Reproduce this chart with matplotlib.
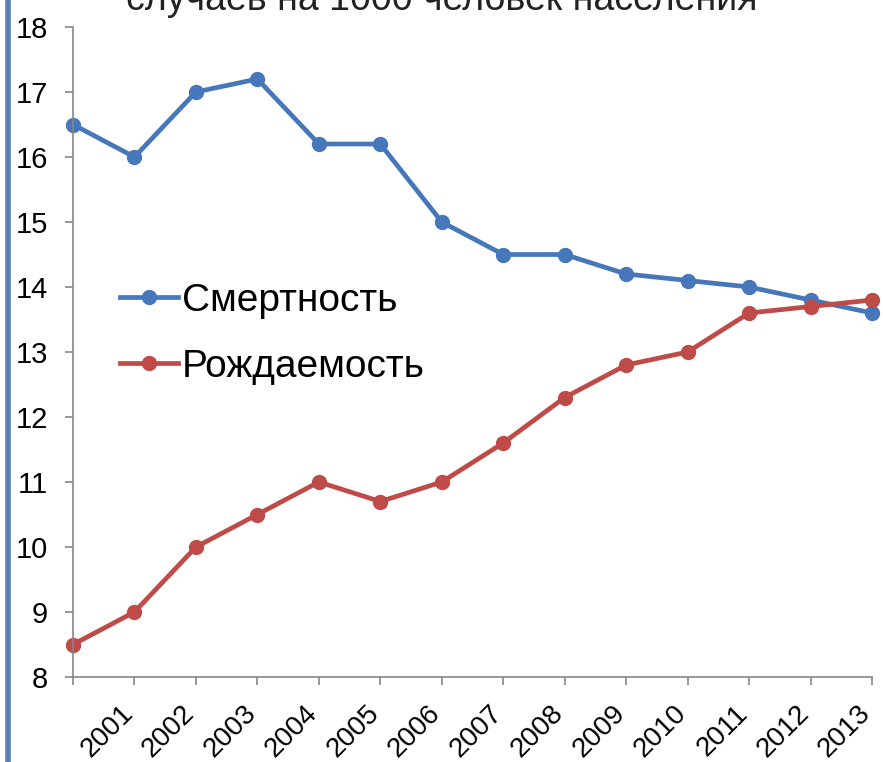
import matplotlib.pyplot as plt
import matplotlib.transforms as mtransforms
from matplotlib.lines import Line2D

plt.rcParams["font.family"] = ["Liberation Sans", "DejaVu Sans"]

# ---------- данные ----------
years = [2000, 2001, 2002, 2003, 2004, 2005, 2006, 2007, 2008, 2009, 2010, 2011, 2012, 2013]
year_labels = ["", "2001", "2002", "2003", "2004", "2005", "2006", "2007",
               "2008", "2009", "2010", "2011", "2012", "2013"]
mortality = [16.5, 16.0, 17.0, 17.2, 16.2, 16.2, 15.0, 14.5, 14.5, 14.2, 14.1, 14.0, 13.8, 13.6]
birth_rate = [8.5, 9.0, 10.0, 10.5, 11.0, 10.7, 11.0, 11.6, 12.3, 12.8, 13.0, 13.6, 13.7, 13.8]
y_ticks = [8, 9, 10, 11, 12, 13, 14, 15, 16, 17, 18]

blue = "#4677bb"
red = "#be4b48"
LW = 3.4
MS = 10

fig = plt.figure(figsize=(8.83, 7.62), dpi=100)
ax = fig.add_axes([73 / 883, 1 - 677 / 762, 799 / 883, 650 / 762])

ax.plot(years, mortality, color=blue, lw=LW, marker="o", ms=MS, clip_on=False)
ax.plot(years, birth_rate, color=red, lw=LW, marker="o", ms=MS, clip_on=False)

ax.set_xlim(2000, 2013)
ax.set_ylim(8, 18)
ax.set_yticks(y_ticks)
ax.set_xticks(years)
ax.set_xticklabels(year_labels, rotation=45, ha="right", va="bottom",
                   rotation_mode="anchor")

for s in ["top", "right"]:
    ax.spines[s].set_visible(False)
for s in ["left", "bottom"]:
    ax.spines[s].set_color("#868686")
    ax.spines[s].set_linewidth(1.2)
ax.tick_params(axis="both", direction="out", length=6, color="#868686", width=1.2)
ax.tick_params(axis="y", pad=12, labelsize=21)
ax.tick_params(axis="x", pad=24, labelsize=20)

# подписи годов чуть правее
shift = mtransforms.ScaledTranslation(4 / 100, 0, fig.dpi_scale_trans)
for lbl in ax.get_xticklabels():
    lbl.set_transform(lbl.get_transform() + shift)

# ---------- легенда ----------
handles = [
    Line2D([], [], color=blue, lw=LW, marker="o", ms=MS),
    Line2D([], [], color=red, lw=LW, marker="o", ms=MS),
]
ax.legend(handles, ["Смертность", "Рождаемость"], loc="center left",
          bbox_to_anchor=(0.059, 0.528), frameon=False, fontsize=28,
          borderpad=0, borderaxespad=0, handlelength=1.5, handletextpad=0.08,
          labelspacing=0.76)

# обрезанный заголовок сверху
fig.text(0.5, 1.0, "случаев на 1000 человек населения", ha="center", va="center",
         fontsize=27, color="#222222")

# синяя полоса слева
fig.add_artist(Line2D([8 / 883, 8 / 883], [0, 1], color="#5b7fb5", lw=4,
                      transform=fig.transFigure))

fig.savefig("out.png", dpi=100)
